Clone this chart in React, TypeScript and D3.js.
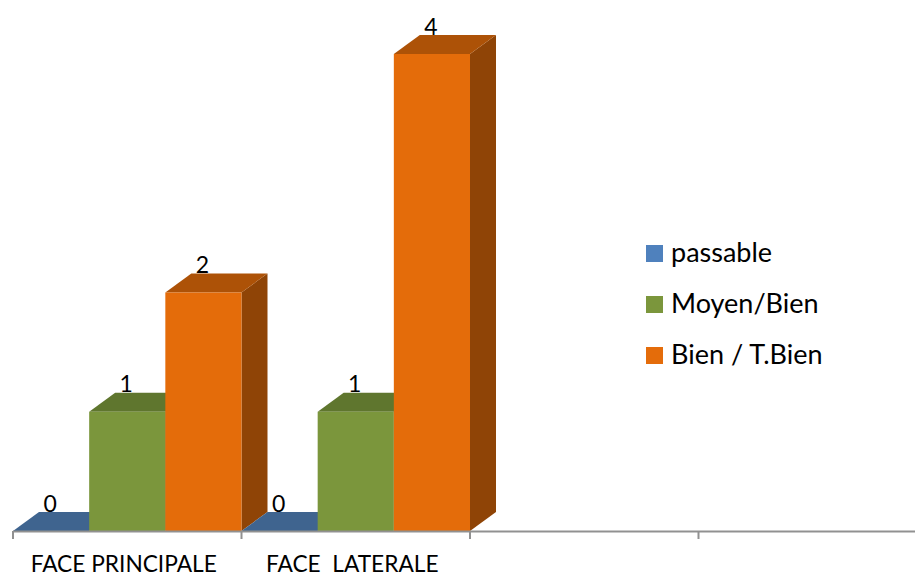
import React from "react";
import * as d3 from "d3";

const categories = ["FACE PRINCIPALE", "FACE  LATERALE", "slot3", "slot4"];
const filledCategories = ["FACE PRINCIPALE", "FACE  LATERALE"];
const seriesNames = ["passable", "Moyen/Bien", "Bien / T.Bien"];
const passable = [0, 0];
const moyenBien = [1, 1];
const bienTBien = [2, 4];
const seriesValues = [passable, moyenBien, bienTBien];

const frontColors = ["#4f81bd", "#7b963c", "#e46c0a"];
const topColors = ["#3f648f", "#5f762e", "#ad5207"];
const sideColors = ["#335578", "#4f6126", "#8f4406"];
const legendColors = ["#4f81bd", "#7b963c", "#e46c0a"];

const W = 915;
const H = 574;
const baseY = 531;
const DX = 26;
const DY = 19;
const FONT = "Lato, Carlito, sans-serif";

const x0 = d3.scaleBand<string>().domain(categories).range([13, 927]).padding(0);
const x1 = d3.scaleBand<string>().domain(seriesNames).range([0, x0.bandwidth()]).padding(0);
const y = d3.scaleLinear().domain([0, 4]).range([baseY, 54]);

const ticks = categories.map((c) => x0(c) as number);

const poly = (pts: [number, number][]) => d3.line()(pts) + "Z";

export default function App() {
  return (
    <svg
      width={W}
      height={H}
      viewBox={`0 0 ${W} ${H}`}
      style={{ position: "absolute", left: 0, top: 0, background: "#fff", fontFamily: FONT }}
    >
      {filledCategories.map((cat, ci) =>
        seriesNames.map((s, si) => {
          const l = (x0(cat) as number) + (x1(s) as number);
          const r = l + x1.bandwidth();
          const t = y(seriesValues[si][ci]);
          return (
            <g key={cat + s}>
              <path
                d={poly([[r, t], [r + DX, t - DY], [r + DX, baseY - DY], [r, baseY]])}
                fill={sideColors[si]}
              />
              <path
                d={poly([[l, t], [l + DX, t - DY], [r + DX, t - DY], [r, t]])}
                fill={topColors[si]}
              />
              <rect x={l} y={t} width={r - l} height={baseY - t} fill={frontColors[si]} />
            </g>
          );
        })
      )}
      <line x1={13} x2={915} y1={531.5} y2={531.5} stroke="#919191" strokeWidth={2} />
      {ticks.map((t) => (
        <line key={t} x1={t} x2={t} y1={531} y2={539} stroke="#919191" strokeWidth={2} />
      ))}
      {filledCategories.map((cat, ci) =>
        seriesNames.map((s, si) => {
          const v = seriesValues[si][ci];
          const cx = (x0(cat) as number) + (x1(s) as number) + x1.bandwidth() / 2 - 1;
          return (
            <text key={cat + s} x={cx} y={y(v) - 19.5} textAnchor="middle" fontSize={23} fill="#000">
              {v}
            </text>
          );
        })
      )}
      {filledCategories.map((cat) => (
        <text
          key={cat}
          x={(x0(cat) as number) + x0.bandwidth() / 2 - 3.5}
          y={572}
          textAnchor="middle"
          fontSize={22.7}
          fill="#000"
          style={{ whiteSpace: "pre" }}
        >
          {cat}
        </text>
      ))}
      {seriesNames.map((s, i) => (
        <g key={s}>
          <rect x={646} y={245 + i * 51} width={17} height={17} fill={legendColors[i]} />
          <text x={671} y={262 + i * 51} fontSize={27} fill="#000">
            {s}
          </text>
        </g>
      ))}
    </svg>
  );
}
